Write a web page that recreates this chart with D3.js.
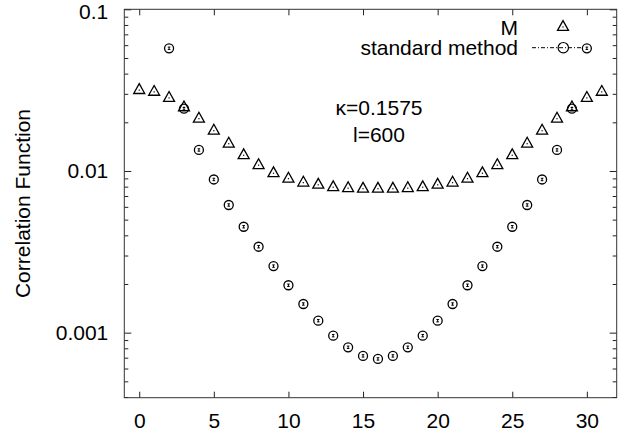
<!DOCTYPE html>
<html>
<head>
<meta charset="utf-8">
<script src="https://cdn.jsdelivr.net/npm/d3@7"></script>
<style>
  html, body { margin: 0; padding: 0; background: #fff; }
  svg { display: block; }
  text { font-family: "Liberation Sans", Arial, Helvetica, sans-serif; fill: #000; }
</style>
</head>
<body>
<svg id="chart" width="627" height="437"></svg>
<script>
// ---- data ----
const mX = d3.range(0, 32);
const mValues = [0.0321, 0.0313, 0.0287, 0.0251, 0.02136, 0.0180, 0.01496, 0.01269,
                 0.01102, 0.00982, 0.00909, 0.00859, 0.00833, 0.00805, 0.00794, 0.00788,
                 0.00788, 0.00788, 0.00794, 0.00805, 0.00833, 0.00859, 0.00909, 0.00982,
                 0.01102, 0.01269, 0.01496, 0.0180, 0.02136, 0.0251, 0.0287, 0.0313];
const stdX = d3.range(2, 31);
const stdValues = [0.0574, 0.0243, 0.01349, 0.00886, 0.00616, 0.00452, 0.00340, 0.00258,
                   0.001964, 0.001504, 0.001186, 0.000958, 0.000812, 0.000718, 0.000688,
                   0.000718, 0.000812, 0.000958, 0.001186, 0.001504, 0.001964, 0.00258,
                   0.00340, 0.00452, 0.00616, 0.00886, 0.01349, 0.0243, 0.0574];
const xTicks = [0, 5, 10, 15, 20, 25, 30];
const yTicks = [0.1, 0.01, 0.001];
const yTickLabels = ["0.1", "0.01", "0.001"];
const seriesNames = ["M", "standard method"];
const annotation = ["\u03BA=0.1575", "l=600"];
const yTitle = "Correlation Function";

// ---- layout ----
const W = 627, H = 437;
const margin = {left: 124.3, top: 9.3, right: 10.3, bottom: 39.3};
const svg = d3.select("#chart");
const x = d3.scaleLinear().domain([-1, 32]).range([margin.left, W - margin.right]);
const y = d3.scaleLog().domain([0.1, 3.96e-4]).range([margin.top, H - margin.bottom]);

const minorTicks = [];
[-4, -3, -2].forEach(e => { for (let m = 2; m <= 9; m++) {
  const v = m * Math.pow(10, e);
  if (v <= 0.1 && v >= 3.96e-4) minorTicks.push(v);
}});

const FS = 21;
function styleAxis(g) {
  g.select(".domain").remove();
  g.selectAll(".tick line").attr("stroke", "#222").attr("stroke-width", 1);
  g.selectAll(".tick text").style("font-size", FS + "px")
    .style("font-family", '"Liberation Sans", Arial, sans-serif').attr("fill", "#000");
}

// left axis
const leftAx = svg.append("g").attr("transform", `translate(${margin.left},0)`)
  .call(d3.axisLeft(y).tickValues(yTicks).tickFormat((d, i) => yTickLabels[i]).tickSize(-7).tickPadding(16))
  .call(styleAxis);
// keep the top label fully inside the picture
leftAx.selectAll(".tick text").filter(d => d === 0.1).attr("dy", "0.45em");
svg.append("g").attr("transform", `translate(${margin.left},0)`)
  .call(d3.axisLeft(y).tickValues(minorTicks).tickFormat("").tickSize(-4))
  .call(styleAxis);
// right axis
svg.append("g").attr("transform", `translate(${W - margin.right},0)`)
  .call(d3.axisRight(y).tickValues(yTicks).tickFormat("").tickSize(-7))
  .call(styleAxis);
svg.append("g").attr("transform", `translate(${W - margin.right},0)`)
  .call(d3.axisRight(y).tickValues(minorTicks).tickFormat("").tickSize(-4))
  .call(styleAxis);
// bottom axis
svg.append("g").attr("transform", `translate(0,${H - margin.bottom})`)
  .call(d3.axisBottom(x).tickValues(xTicks).tickFormat(d3.format("d")).tickSize(-6).tickPadding(15))
  .call(styleAxis);
// top axis
svg.append("g").attr("transform", `translate(0,${margin.top})`)
  .call(d3.axisTop(x).tickValues(xTicks).tickFormat("").tickSize(-6))
  .call(styleAxis);

// frame
svg.append("rect")
  .attr("x", margin.left).attr("y", margin.top)
  .attr("width", W - margin.left - margin.right)
  .attr("height", H - margin.top - margin.bottom)
  .attr("fill", "none").attr("stroke", "#333").attr("stroke-width", 1);

// y title
svg.append("text")
  .attr("transform", `translate(30,${(margin.top + H - margin.bottom) / 2}) rotate(-90)`)
  .attr("text-anchor", "middle")
  .style("font-size", FS + "px")
  .text(yTitle);

// markers
const triPath = "M0,-5.4 L5.5,4.4 L-5.5,4.4 Z";
const errPath = "M-1.3,-1.2 H1.3 M0,-1.2 V1.2 M-1.3,1.2 H1.3";

function triangle(g, cx, cy) {
  const t = g.append("g").attr("transform", `translate(${cx},${cy})`);
  t.append("path").attr("d", triPath).attr("fill", "none").attr("stroke", "#000").attr("stroke-width", 1.3);
  t.append("rect").attr("x", -0.6).attr("y", 0.4).attr("width", 1.2).attr("height", 1.2).attr("fill", "#000");
}
function circleMark(g, cx, cy, r) {
  const t = g.append("g").attr("transform", `translate(${cx},${cy})`);
  t.append("circle").attr("r", r).attr("fill", "none").attr("stroke", "#000").attr("stroke-width", 1.3);
  t.append("path").attr("d", errPath).attr("fill", "none").attr("stroke", "#000").attr("stroke-width", 1);
}

const gStd = svg.append("g");
stdX.forEach((d, i) => circleMark(gStd, x(d), y(stdValues[i]), 4.5));
const gM = svg.append("g");
mX.forEach((d, i) => triangle(gM, x(d), y(mValues[i])));

// legend
svg.append("text").attr("x", 518).attr("y", 34.5).attr("text-anchor", "end")
  .style("font-size", FS + "px").text(seriesNames[0]);
svg.append("text").attr("x", 518).attr("y", 54.5).attr("text-anchor", "end")
  .style("font-size", FS + "px").text(seriesNames[1]);
triangle(svg, 563, 26);
svg.append("line").attr("x1", 532).attr("x2", 581).attr("y1", 47.7).attr("y2", 47.7)
  .attr("stroke", "#000").attr("stroke-width", 1).attr("stroke-dasharray", "4,2,1,2");
svg.append("circle").attr("cx", 563.3).attr("cy", 47.7).attr("r", 5.2)
  .attr("fill", "none").attr("stroke", "#000").attr("stroke-width", 1.2);

// annotation
svg.append("text").attr("x", 379).attr("y", 115).attr("text-anchor", "middle")
  .style("font-size", FS + "px").text(annotation[0]);
svg.append("text").attr("x", 379).attr("y", 141.7).attr("text-anchor", "middle")
  .style("font-size", FS + "px").text(annotation[1]);
</script>
</body>
</html>
